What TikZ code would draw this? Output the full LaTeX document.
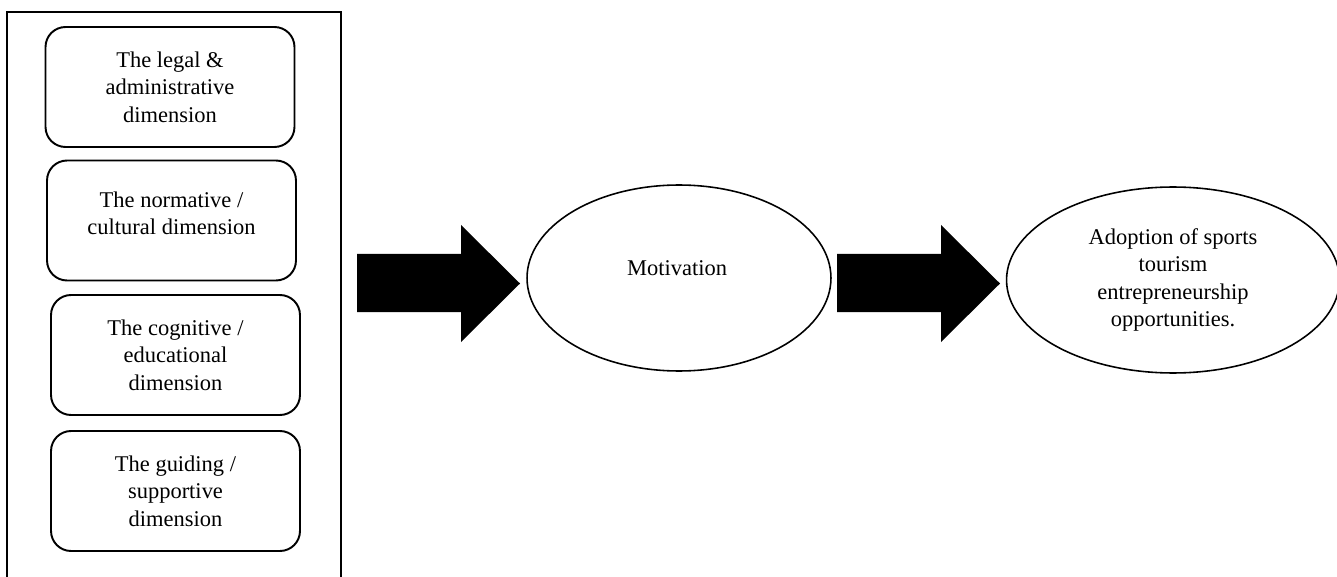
\documentclass[tikz,border=0pt]{standalone}
\usepackage{fontspec}
\setmainfont{Liberation Serif}
\usetikzlibrary{shapes.geometric}

\tikzset{
  dimbox/.style={draw, line width=1.1pt, rounded corners=0.4cm, minimum width=4.98cm, minimum height=2.4cm},
  txt/.style={align=center, font=\fontsize{12.8}{15.65}\selectfont, inner sep=0pt},
  oval/.style={draw, ellipse, line width=0.9pt, minimum height=3.72cm},
}

\begin{document}
\begin{tikzpicture}[x=0.02cm, y=-0.02cm]
      \useasboundingbox (0,0) rectangle (1337,577);
      %marco
      \draw[line width=1.1pt] (7,585) -- (7,12) -- (341,12) -- (341,585);
      %dimensiones
      \node[dimbox, txt] (legal) at (170,87) {The legal \&\\administrative\\dimension};
      \node[dimbox] (cultural) at (171.5,220.5) {};
      \node[txt] (cultural text) at (171.5,213.5) {The normative /\\cultural dimension};
      \node[dimbox, txt] (cognitive) at (175.5,355) {The cognitive /\\educational\\dimension};
      \node[dimbox, txt] (guiding) at (175.5,491) {The guiding /\\supportive\\dimension};
      %flechas
      \foreach \s in {357,837}
        \fill (\s,254) -- ++(104,0) -- ++(0,-29) -- ++(59,58.5) -- ++(-59,58.5) -- ++(0,-30) -- ++(-104,0) -- cycle;
      %motivacion
      \node[oval, minimum width=6.08cm] (motiv) at (679,278) {};
      \node[txt] (motiv text) at (677,268) {Motivation};
      %adopcion
      \node[oval, txt, minimum width=6.66cm] (adopt) at (1173,280) {Adoption of sports\\tourism\\entrepreneurship\\opportunities.};
\end{tikzpicture}
\end{document}
